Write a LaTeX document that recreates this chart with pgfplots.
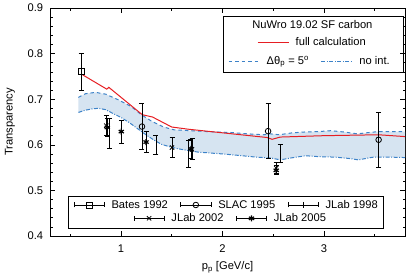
\documentclass[border=0pt]{standalone}
\usepackage{pgfplots}
\pgfplotsset{compat=1.18}
\usepgfplotslibrary{fillbetween}
\usetikzlibrary{arrows.meta}
\usepackage{fontspec}
\setmainfont{Liberation Sans}
\definecolor{myred}{RGB}{230,30,35}
\definecolor{myblue}{RGB}{60,130,200}
\definecolor{bandc}{RGB}{214,228,241}

\pgfplotstableread{
x y
0.58 0.704
0.65 0.712
0.75 0.715
0.85 0.711
0.98 0.698
1.10 0.684
1.20 0.666
1.30 0.652
1.42 0.639
1.52 0.633
1.68 0.631
1.85 0.629
2.08 0.627
2.25 0.624
2.41 0.622
2.47 0.624
2.56 0.622
2.68 0.626
2.80 0.628
2.95 0.629
3.07 0.631
3.20 0.628
3.33 0.624
3.45 0.627
3.54 0.629
3.70 0.629
3.80 0.629
}\tabup

\pgfplotstableread{
x y
0.58 0.671
0.65 0.676
0.72 0.679
0.78 0.680
0.85 0.677
0.91 0.670
1.00 0.660
1.08 0.649
1.16 0.636
1.24 0.623
1.32 0.611
1.40 0.601
1.49 0.595
1.57 0.591
1.65 0.588
1.76 0.584
1.88 0.582
2.00 0.580
2.15 0.577
2.33 0.573
2.48 0.571
2.57 0.567
2.70 0.572
2.82 0.576
2.95 0.574
3.11 0.573
3.25 0.570
3.34 0.567
3.49 0.573
3.65 0.573
3.80 0.572
}\tablo

\pgfplotstableread{
x y
0.61 0.755
0.86 0.722
0.88 0.726
1.21 0.666
1.31 0.661
1.50 0.639
1.67 0.634
2.44 0.616
2.49 0.612
2.57 0.617
3.00 0.620
3.54 0.622
3.80 0.618
}\tabfull

\pgfplotstableread{
x y e
0.608 0.760 0.040
}\tabbates
\pgfplotstableread{
x y e
1.207 0.640 0.050
2.450 0.630 0.060
3.540 0.611 0.060
}\tabslac
\pgfplotstableread{
x y e
0.885 0.625 0.033
1.345 0.600 0.020
1.667 0.580 0.030
2.570 0.581 0.020
}\tabjlabA
\pgfplotstableread{
x y e
0.855 0.642 0.022
1.503 0.594 0.022
1.700 0.590 0.023
2.530 0.549 0.012
}\tabjlabB
\pgfplotstableread{
x y e
0.865 0.638 0.020
1.003 0.629 0.025
1.247 0.606 0.023
1.690 0.591 0.020
2.530 0.544 0.010
}\tabjlabC

\pgfplotsset{
 hid/.style={scale only axis, width=355bp, height=228bp, hide axis,
   xmin=0, xmax=1, ymin=0, ymax=1, legend cell align=left,
   legend style={draw=none, fill=none, inner sep=0pt, anchor=west,
     nodes={inner sep=0pt},
     /tikz/every odd column/.style={column sep=6.5bp},
     /tikz/every even column/.style={column sep=12bp}}},
 lineleg/.style={legend image code/.code={\draw (0bp,0bp)--(31bp,0bp);}},
 errleg/.style={legend image code/.code={%
   \draw[solid,black,line width=0.8pt,{Bar[width=5bp]}-{Bar[width=5bp]}] (0bp,0bp)--(31bp,0bp);
   \draw plot coordinates {(15.5bp,0bp)};}},
 errs/.style={only marks, black, line width=0.8pt, forget plot,
   error bars/y dir=both, error bars/y explicit,
   error bars/error bar style={line width=0.8pt, solid, black},
   error bars/error mark options={rotate=90, black, line width=0.8pt, mark size=2.5bp}},
}

\begin{document}
\fontsize{11.2}{13}\selectfont
\begin{tikzpicture}
\begin{axis}[scale only axis, width=355bp, height=228bp,
 xmin=0.3, xmax=3.8, ymin=0.4, ymax=0.9,
 xtick={1,2,3}, minor xtick={0.5,1.5,2.5,3.5},
 ytick={0.4,0.5,0.6,0.7,0.8,0.9}, minor y tick num=4,
 tick align=inside, major tick length=5bp, minor tick length=2.5bp,
 tick style={black, line width=0.6pt},
 axis line style={line width=0.9pt},
 /pgf/number format/assume math mode=true,
 yticklabel style={xshift=-3bp, /pgf/number format/fixed, /pgf/number format/fixed zerofill, /pgf/number format/precision=1},
 xticklabel style={yshift=-5bp},
 xlabel={p\textsubscript{p} [GeV/c]}, ylabel={Transparency},
 xlabel style={at={(axis description cs:0.5,-0.136)}, anchor=center},
 ylabel style={at={(axis description cs:-0.113,0.5)}, anchor=center},
 set layers]
\addplot[name path=up, myblue, line width=1pt, dash pattern=on 3.5bp off 3bp, forget plot] table {\tabup};
\addplot[name path=lo, myblue, line width=1pt, dash pattern=on 4bp off 1.5bp on 1bp off 1.5bp, forget plot] table {\tablo};
\addplot[bandc, forget plot] fill between[of=up and lo];
\addplot[myred, line width=1pt, forget plot] table {\tabfull};
\addplot[errs, mark=square, mark size=3bp] table[x=x, y=y, y error=e] {\tabbates};
\addplot[errs, mark=o, mark size=2.8bp] table[x=x, y=y, y error=e] {\tabslac};
\addplot[errs, mark=|, mark size=3bp] table[x=x, y=y, y error=e] {\tabjlabA};
\addplot[errs, mark=x, mark size=3bp] table[x=x, y=y, y error=e] {\tabjlabB};
\addplot[errs, mark=asterisk, mark size=3bp, mark options={line width=1.2pt}] table[x=x, y=y, y error=e] {\tabjlabC};
\end{axis}

\begin{axis}[hid, legend style={at={(axis description cs:0.5831,0.8478)}}]
\addlegendimage{myred, line width=1pt, lineleg}
\addlegendentry{full calculation}
\end{axis}

\begin{axis}[hid, legend columns=2, legend style={at={(axis description cs:0.5014,0.7675)}}]
\addlegendimage{myblue, line width=1pt, dash pattern=on 3.5bp off 3bp, lineleg}
\addlegendentry{Δθ\textsubscript{p} = 5\textsuperscript{o}}
\addlegendimage{myblue, line width=1pt, dash pattern=on 4bp off 1.5bp on 1bp off 1.5bp, lineleg}
\addlegendentry{no int.}
\end{axis}

\begin{axis}[hid, legend columns=3, legend style={at={(axis description cs:0.0648,0.136)}}]
\addlegendimage{only marks, black, line width=0.8pt, mark=square, mark size=3bp, errleg}
\addlegendentry{Bates 1992}
\addlegendimage{only marks, black, line width=0.8pt, mark=o, mark size=2.8bp, errleg}
\addlegendentry{SLAC 1995}
\addlegendimage{only marks, black, line width=0.8pt, mark=|, mark size=3bp, errleg}
\addlegendentry{JLab 1998}
\end{axis}

\begin{axis}[hid, legend columns=2, legend style={at={(axis description cs:0.2338,0.0776)}}]
\addlegendimage{only marks, black, line width=0.8pt, mark=x, mark size=3bp, errleg}
\addlegendentry{JLab 2002}
\addlegendimage{only marks, black, line width=0.8pt, mark=asterisk, mark size=3bp, mark options={line width=1.2pt}, errleg}
\addlegendentry{JLab 2005}
\end{axis}

\begin{scope}[x=1bp, y=-1bp, shift={(-50bp,236bp)}]
\draw[line width=0.8pt] (223,16) rectangle (403,72);
\draw[line width=0.8pt] (68,196) rectangle (383,228);
\node at (312.4,25) {NuWro 19.02 SF carbon};
\end{scope}
\pgfresetboundingbox
\path (-50bp,-41bp) rectangle (365bp,236bp);
\end{tikzpicture}
\end{document}
